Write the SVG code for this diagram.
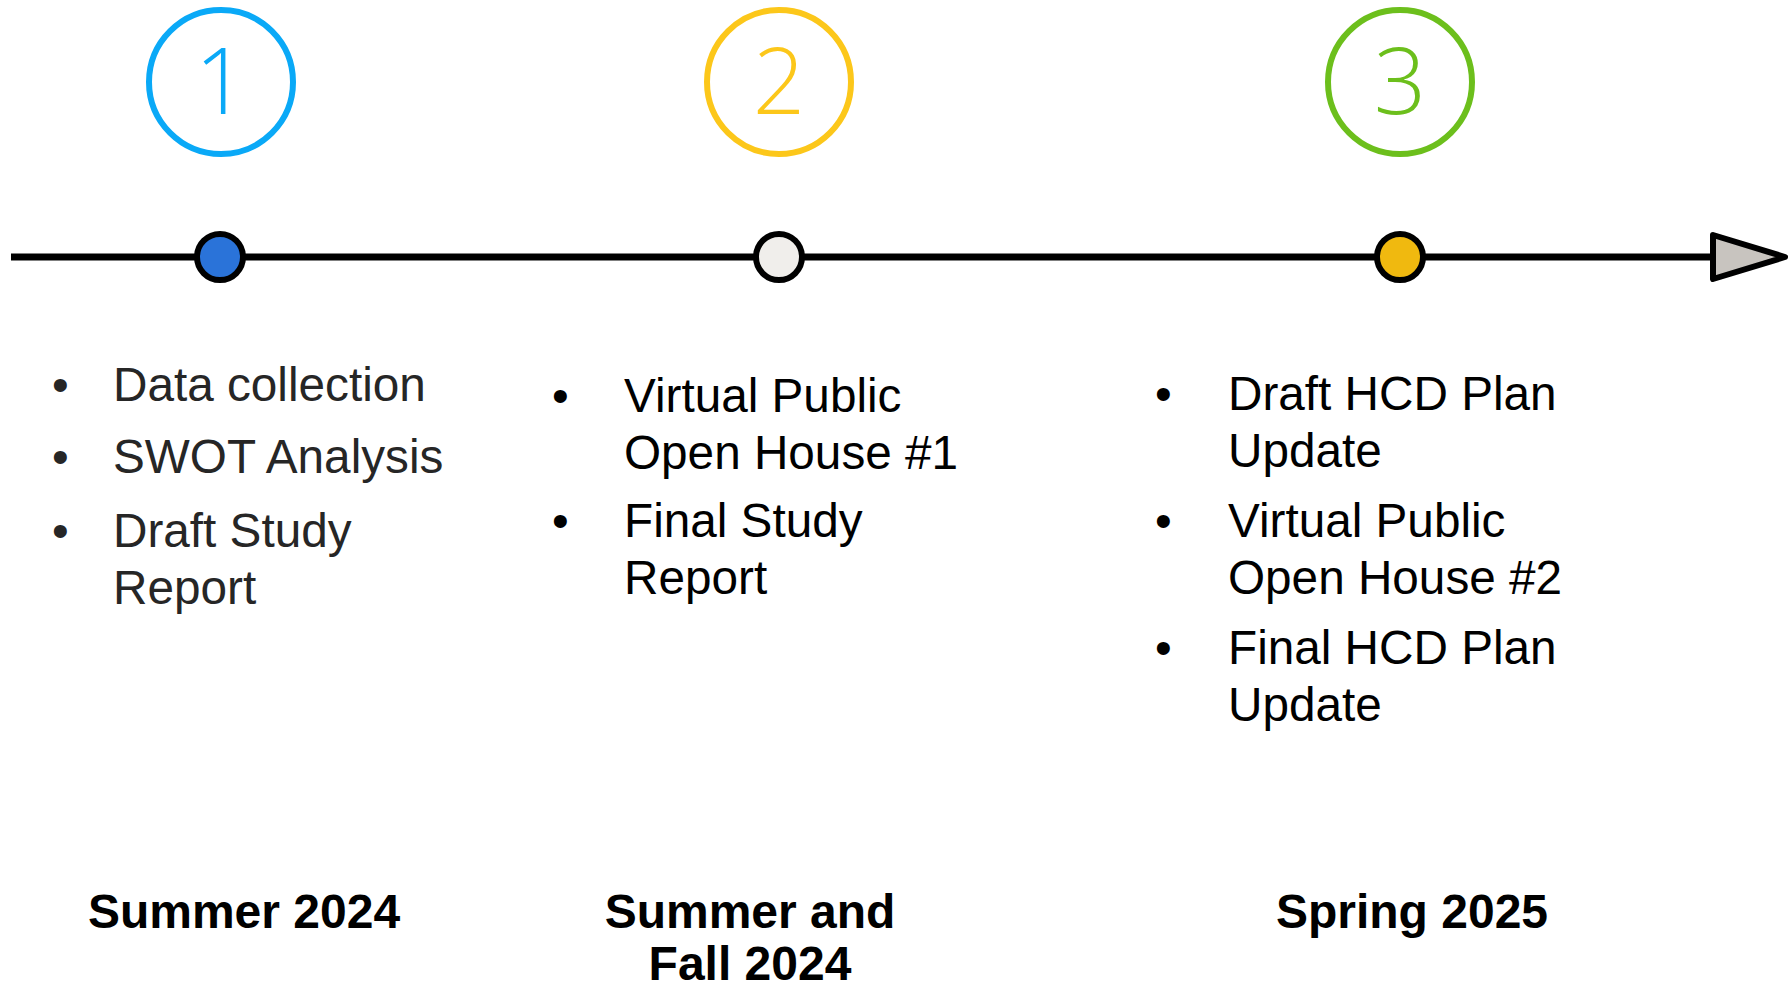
<svg xmlns="http://www.w3.org/2000/svg" width="1788" height="987" viewBox="0 0 1788 987">
<style>
.num{font-family:"Open Sans","Liberation Sans",sans-serif;font-weight:300;font-size:92px;text-anchor:middle}
.ring{fill:none;stroke-width:6}
.dot{stroke:#000;stroke-width:6}
.b{font-family:"Liberation Sans",Arial,sans-serif;font-size:47.7px}
.c1{fill:#262626}
.c2{fill:#000}
.lbl{font-family:"Liberation Sans",Arial,sans-serif;font-size:48px;font-weight:bold;fill:#000;text-anchor:middle}
</style>
<rect width="1788" height="987" fill="#fff"/>
<g id="connectors">
<line x1="11" y1="257" x2="1713" y2="257" stroke="#000" stroke-width="7"/>
<polygon points="1713,235 1785,257 1713,279" fill="#c8c4bf" stroke="#000" stroke-width="6" stroke-linejoin="round"/>
</g>
<g id="phase1">
<circle class="ring" cx="221" cy="82" r="72" stroke="#0aa9f7"/>
<text class="num" x="221" y="114" fill="#0aa9f7">1</text>
<circle class="dot" cx="220" cy="257" r="23" fill="#2a73d9"/>
<g class="b c1">
<text x="52" y="401">•</text><text x="113" y="401">Data collection</text>
<text x="52" y="473">•</text><text x="113" y="473">SWOT Analysis</text>
<text x="52" y="547">•</text><text x="113" y="547">Draft Study</text>
<text x="113" y="604">Report</text>
</g>
<text class="lbl" x="244" y="928">Summer 2024</text>
</g>
<g id="phase2">
<circle class="ring" cx="779" cy="82" r="72" stroke="#fcc71a"/>
<text class="num" x="779" y="114" fill="#fcc71a">2</text>
<circle class="dot" cx="779" cy="257" r="23" fill="#f0eeeb"/>
<g class="b c2">
<text x="552" y="412">•</text><text x="624" y="412">Virtual Public</text>
<text x="624" y="469">Open House #1</text>
<text x="552" y="537">•</text><text x="624" y="537">Final Study</text>
<text x="624" y="594">Report</text>
</g>
<text class="lbl" x="750" y="928">Summer and</text>
<text class="lbl" x="750" y="980">Fall 2024</text>
</g>
<g id="phase3">
<circle class="ring" cx="1400" cy="82" r="72" stroke="#6cbf1c"/>
<text class="num" x="1400" y="114" fill="#6cbf1c">3</text>
<circle class="dot" cx="1400" cy="257" r="23" fill="#f0b90f"/>
<g class="b c2">
<text x="1155" y="410">•</text><text x="1228" y="410">Draft HCD Plan</text>
<text x="1228" y="467">Update</text>
<text x="1155" y="537">•</text><text x="1228" y="537">Virtual Public</text>
<text x="1228" y="594">Open House #2</text>
<text x="1155" y="664">•</text><text x="1228" y="664">Final HCD Plan</text>
<text x="1228" y="721">Update</text>
</g>
<text class="lbl" x="1412" y="928">Spring 2025</text>
</g>
</svg>
